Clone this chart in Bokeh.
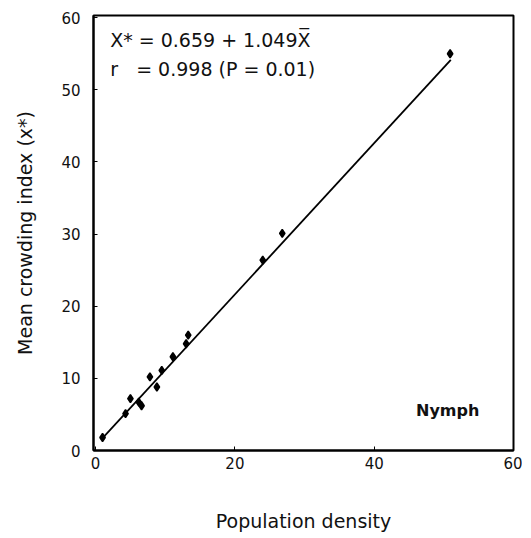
from bokeh.plotting import figure
from bokeh.models import Range1d, Label, FixedTicker
from bokeh.embed import file_html
from bokeh.resources import INLINE

# Data
density = [1.0, 4.3, 5.0, 6.2, 6.6, 7.8, 8.8, 9.5, 11.1, 13.0, 13.3, 24.0, 26.8, 50.9]
crowding = [1.8, 5.1, 7.2, 6.7, 6.2, 10.2, 8.8, 11.1, 13.0, 14.8, 16.0, 26.4, 30.1, 55.0]
fit_a = 0.659
fit_b = 1.049
fit_x = [1.0, 51.0]
fit_y = [fit_a + fit_b * v for v in fit_x]
x_ticks = [0, 20, 40, 60]
y_ticks = [0, 10, 20, 30, 40, 50, 60]

FONT = "DejaVu Sans"
NB = "\u00a0"

p = figure(width=522, height=530, output_backend="svg", toolbar_location=None,
           x_range=Range1d(-0.3, 60), y_range=Range1d(0, 60.3),
           frame_width=420, frame_height=435,
           min_border_left=93, min_border_top=15, min_border_right=9, min_border_bottom=80)
p.grid.visible = False
p.outline_line_color = "black"
p.outline_line_width = 2
p.background_fill_color = "white"
p.border_fill_color = "white"

for ax in (p.xaxis[0], p.yaxis[0]):
    ax.axis_line_color = "black"
    ax.axis_line_width = 2
    ax.major_tick_in = 4
    ax.major_tick_out = 0
    ax.minor_tick_line_color = None
    ax.major_label_text_font = FONT
    ax.major_label_text_font_size = "15px"
    ax.major_label_text_color = "#111111"
    ax.axis_label_text_font = FONT
    ax.axis_label_text_font_size = "19px"
    ax.axis_label_text_font_style = "normal"
    ax.axis_label_text_color = "#111111"

p.xaxis.ticker = FixedTicker(ticks=x_ticks)
p.yaxis.ticker = FixedTicker(ticks=y_ticks)
p.xaxis.axis_label = "Population density"
p.yaxis.axis_label = "Mean crowding index (x*)"
p.xaxis.major_label_standoff = 6
p.yaxis.major_label_standoff = 13
p.xaxis.axis_label_standoff = 38
p.yaxis.axis_label_standoff = 22

p.line(fit_x, fit_y, line_color="black", line_width=1.8)
p.scatter(density, crowding, marker="diamond_cross", size=8, fill_color="black",
          line_color="black", line_width=1.5)

p.add_layout(Label(x=2.1, y=55.4, text="X* = 0.659 + 1.049X\u0305",
                   text_font=FONT, text_font_size="19px", text_color="#111111"))
p.add_layout(Label(x=2.1, y=51.4, text="r" + NB * 3 + "= 0.998 (P = 0.01)",
                   text_font=FONT, text_font_size="19px", text_color="#111111"))
p.add_layout(Label(x=46.0, y=4.2, text="Nymph",
                   text_font=FONT, text_font_size="16px", text_font_style="bold",
                   text_color="#111111"))

open("out.html", "w").write(file_html(p, INLINE))
